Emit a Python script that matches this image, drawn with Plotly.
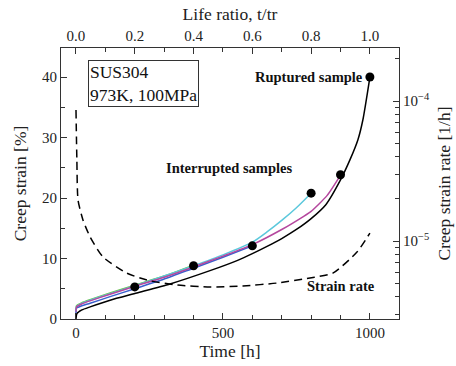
import plotly.graph_objects as go

# Creep curves (time in h, strain in %)
t_black = [0, 3, 20, 48, 116, 207, 320, 456, 550, 600, 650, 700, 750, 800, 850, 900, 932, 959, 976, 1000]
e_black = [0, 0.9, 1.5, 2.0, 3.1, 4.3, 5.8, 8.0, 9.7, 10.8, 12.0, 13.3, 14.8, 16.6, 18.9, 23.0, 26.3, 29.6, 32.9, 40.0]

t_green = [0, 2, 20, 48, 116, 200, 300, 400]
e_green = [1.3, 2.2, 2.7, 3.2, 4.3, 5.6, 7.1, 8.9]

t_blue = [0, 2, 20, 48, 116, 200, 300, 400, 500, 600]
e_blue = [1.0, 1.8, 2.2, 2.6, 3.7, 5.0, 6.6, 8.4, 10.2, 12.1]

t_cyan = [0, 2, 20, 48, 116, 200, 300, 400, 500, 600, 650, 700, 750, 800]
e_cyan = [1.3, 2.1, 2.6, 3.1, 4.2, 5.5, 7.1, 8.8, 10.6, 12.7, 14.4, 16.3, 18.4, 20.8]

t_magenta = [0, 2, 20, 48, 116, 200, 300, 400, 500, 600, 700, 772, 800, 854, 900]
e_magenta = [1.2, 2.0, 2.5, 3.0, 4.1, 5.4, 6.9, 8.6, 10.4, 12.3, 14.8, 16.9, 17.8, 20.4, 23.8]

# Sample end points
t_samples = [200, 400, 600, 800, 900, 1000]
e_samples = [5.3, 8.8, 12.1, 20.8, 23.85, 40.0]

# Creep strain rate of the ruptured sample (1/h)
t_rate = [0, 3, 7, 24, 48, 92, 173, 241, 344, 456, 568, 684, 796, 874, 956, 1000]
r_rate = [8.63e-5, 3.80e-5, 1.96e-5, 1.41e-5, 1.07e-5, 7.69e-6, 5.90e-6, 5.26e-6,
          4.85e-6, 4.69e-6, 4.78e-6, 5.01e-6, 5.45e-6, 5.90e-6, 8.34e-6, 1.14e-5]

FONT = "Liberation Serif"

fig = go.Figure()

for t, e, c in [(t_black, e_black, "black"), (t_green, e_green, "#6cc04a"),
                (t_blue, e_blue, "#3a5fcd"), (t_cyan, e_cyan, "#5bc8dc"),
                (t_magenta, e_magenta, "#b5479e")]:
    fig.add_trace(go.Scatter(x=t, y=e, mode="lines",
                             line=dict(color=c, width=1.5, shape="spline", smoothing=0.6),
                             showlegend=False, hoverinfo="skip"))

fig.add_trace(go.Scatter(x=t_samples, y=e_samples, mode="markers",
                         marker=dict(color="black", size=9), showlegend=False))

fig.add_trace(go.Scatter(x=t_rate, y=r_rate, mode="lines", yaxis="y2",
                         line=dict(color="black", width=1.5, dash="8px,5px", shape="spline", smoothing=0.6),
                         showlegend=False))

# invisible trace to activate the top life-ratio axis
fig.add_trace(go.Scatter(x=[0, 1], y=[0, 0], xaxis="x2", mode="lines",
                         line=dict(width=0), opacity=0, showlegend=False, hoverinfo="skip"))

axis_common = dict(showline=True, linecolor="#333", linewidth=1, ticks="inside",
                   tickcolor="#333", ticklen=6, showgrid=False, zeroline=False, automargin=False,
                   tickfont=dict(family=FONT, size=15, color="#222"))
minor_common = dict(ticks="inside", ticklen=4, tickcolor="#333")
TITLE_SIZE = 17.5

fig.update_layout(
    width=456, height=366,
    margin=dict(l=61, r=57, t=48, b=47),
    paper_bgcolor="white", plot_bgcolor="white",
    font=dict(family=FONT, color="#222"),
    xaxis=dict(range=[-51, 1099], tickvals=[0, 500, 1000],
               minor=dict(tickvals=list(range(0, 1100, 100)), **minor_common),
               title=dict(text="Time [h]", font=dict(family=FONT, size=TITLE_SIZE), standoff=2),
               **axis_common),
    xaxis2=dict(range=[-0.051, 1.099], overlaying="x", side="top", anchor="y",
                tickvals=[0, 0.2, 0.4, 0.6, 0.8, 1.0], ticktext=["0.0", "0.2", "0.4", "0.6", "0.8", "1.0"],
                minor=dict(tickvals=[i / 10 for i in range(11)], **minor_common),
                title=dict(text="Life ratio, t/tr", font=dict(family=FONT, size=TITLE_SIZE), standoff=2),
                **axis_common),
    yaxis=dict(range=[0, 44.8], tickvals=[0, 10, 20, 30, 40],
               minor=dict(tickvals=list(range(0, 45, 5)), **minor_common),
               title=dict(text="Creep strain [%]", font=dict(family=FONT, size=TITLE_SIZE), standoff=10),
               **axis_common),
    yaxis2=dict(type="log", range=[-5.557, -3.621], overlaying="y", side="right", anchor="x",
                tickvals=[1e-5, 1e-4], ticktext=["10<sup>−5</sup>", "10<sup>−4</sup>"],
                minor=dict(tickvals=[k * 10 ** p for p in (-6, -5, -4) for k in range(2, 10)], **minor_common),
                title=dict(text="Creep strain rate [1/h]", font=dict(family=FONT, size=TITLE_SIZE), standoff=8),
                **axis_common),
    annotations=[
        dict(text="SUS304<br>973K, 100MPa", x=0.08, y=0.956, xref="paper", yref="paper",
             xanchor="left", yanchor="top", align="left", showarrow=False,
             font=dict(family=FONT, size=17.5, color="#111"),
             bordercolor="#333", borderwidth=1, borderpad=1, bgcolor="white"),
        dict(text="<b>Ruptured sample</b>", x=985, y=40.0, xref="x", yref="y",
             xanchor="right", yanchor="middle", showarrow=False,
             font=dict(family=FONT, size=14.5, color="#111")),
        dict(text="<b>Interrupted samples</b>", x=520, y=25.0, xref="x", yref="y",
             xanchor="center", yanchor="middle", showarrow=False,
             font=dict(family=FONT, size=14.5, color="#111")),
        dict(text="<b>Strain rate</b>", x=1025, y=5.5, xref="x", yref="y",
             xanchor="right", yanchor="middle", showarrow=False,
             font=dict(family=FONT, size=14.5, color="#111")),
    ],
)

fig.write_html("out.html")
